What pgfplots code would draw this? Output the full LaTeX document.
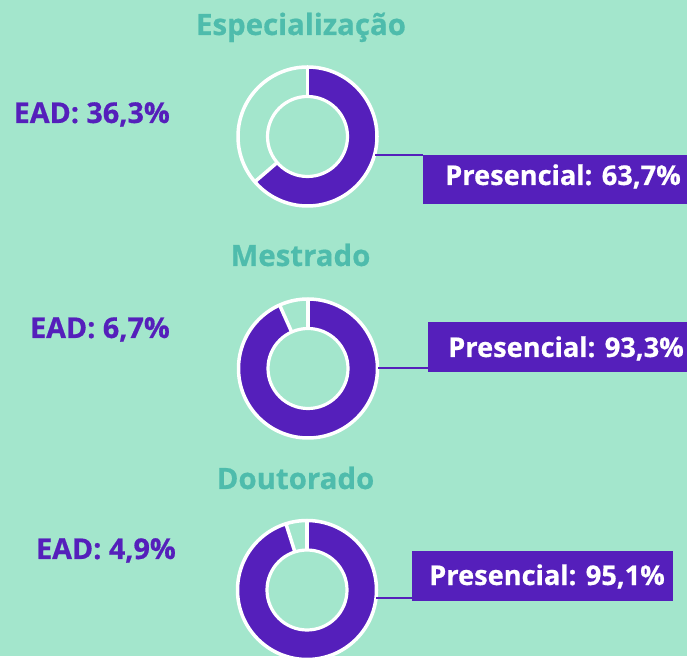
\documentclass[border=0pt]{standalone}
\usepackage{pgfplots}
\pgfplotsset{compat=1.18}
\usepackage{pgfplotstable}
\usepackage{fontspec}
\setmainfont{Open Sans}[BoldFeatures={FakeBold=0.6}]

\definecolor{bg}{RGB}{163,230,204}
\definecolor{purp}{RGB}{85,31,187}
\definecolor{tealt}{RGB}{78,188,172}

% share of each course (percent)
\pgfplotstableread{
curso presencial ead
Especializacao 63.7 36.3
Mestrado 93.3 6.7
Doutorado 95.1 4.9
}\donuts

% donut: center x, center y, presencial share
\newcommand\donut[3]{%
  \fill[purp] (axis cs:#1,#2) ++(90:69.5bp)
    arc[start angle=90, end angle={90-3.6*#3}, radius=69.5bp]
    -- ++({90-3.6*#3}:-29.5bp)
    arc[start angle={90-3.6*#3}, end angle=90, radius=40bp] -- cycle;
  \draw[white, line width=3.5bp] (axis cs:#1,#2) circle[radius=69.5bp];
  \draw[white, line width=3.2bp] (axis cs:#1,#2) circle[radius=40bp];
  \draw[white, line width=3.5bp] (axis cs:#1,#2) ++(90:40bp) -- ++(90:29.5bp);
  \draw[white, line width=3.5bp] (axis cs:#1,#2) ++({90-3.6*#3}:40bp) -- ++({90-3.6*#3}:29.5bp);
}

\begin{document}
\begin{tikzpicture}
\pgfplotstablegetelem{0}{presencial}\of\donuts \let\pA\pgfplotsretval
\pgfplotstablegetelem{1}{presencial}\of\donuts \let\pB\pgfplotsretval
\pgfplotstablegetelem{2}{presencial}\of\donuts \let\pC\pgfplotsretval
\begin{axis}[
    scale only axis,
    width=687bp, height=656bp,
    xmin=0, xmax=687, ymin=0, ymax=656,
    hide axis, clip=false]
  \fill[bg] (axis cs:0,0) rectangle (axis cs:687,656);

  % titles
  \node[anchor=base, text=tealt, font=\bfseries\fontsize{29.5}{34}\selectfont] at (axis cs:301,621) {Especialização};
  \node[anchor=base, text=tealt, font=\bfseries\fontsize{29.5}{34}\selectfont] at (axis cs:300.5,390) {Mestrado};
  \node[anchor=base, text=tealt, font=\bfseries\fontsize{29.5}{34}\selectfont] at (axis cs:295.5,167) {Doutorado};

  % donuts
  \donut{307.5}{519.5}{\pA}
  \donut{308}{287.5}{\pB}
  \donut{307}{66}{\pC}

  % leader lines
  \draw[purp, line width=1.3bp] (axis cs:375,501) -- (axis cs:423,501);
  \draw[purp, line width=1.3bp] (axis cs:378,288) -- (axis cs:428,288);
  \draw[purp, line width=1.3bp] (axis cs:376,58) -- (axis cs:412,58);

  % presencial boxes
  \fill[purp] (axis cs:423,452) rectangle (axis cs:687,501);
  \fill[purp] (axis cs:428,284) rectangle (axis cs:687,334);
  \fill[purp] (axis cs:412,55) rectangle (axis cs:673,105);
  \node[anchor=base west, inner sep=0pt, text=white, font=\bfseries\fontsize{27.3}{30}\selectfont] at (axis cs:445,471) {Presencial: 63,7\%};
  \node[anchor=base west, inner sep=0pt, text=white, font=\bfseries\fontsize{27.3}{30}\selectfont] at (axis cs:448,299) {Presencial: 93,3\%};
  \node[anchor=base west, inner sep=0pt, text=white, font=\bfseries\fontsize{27.3}{30}\selectfont] at (axis cs:429,71) {Presencial: 95,1\%};

  % ead labels
  \node[anchor=base east, inner sep=0pt, text=purp, font=\bfseries\fontsize{28.8}{32}\selectfont] at (axis cs:170,533) {EAD: 36,3\%};
  \node[anchor=base east, inner sep=0pt, text=purp, font=\bfseries\fontsize{28.8}{32}\selectfont] at (axis cs:170,318) {EAD: 6,7\%};
  \node[anchor=base east, inner sep=0pt, text=purp, font=\bfseries\fontsize{28.8}{32}\selectfont] at (axis cs:176,97) {EAD: 4,9\%};
\end{axis}
\end{tikzpicture}
\end{document}
